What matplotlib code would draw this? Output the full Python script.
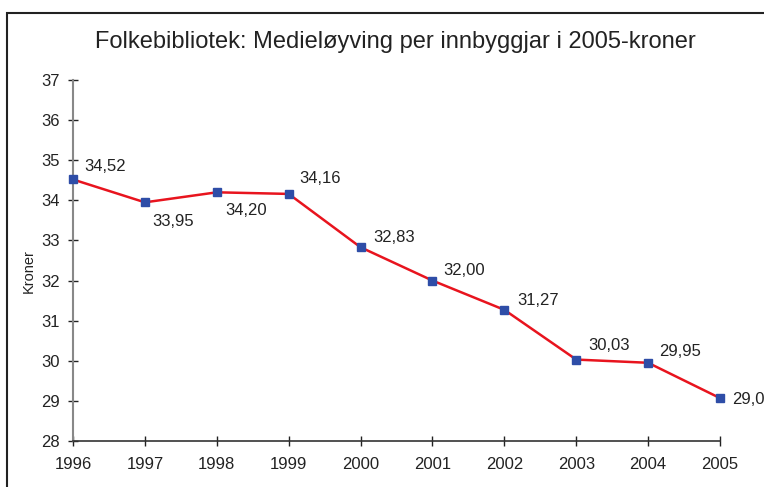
import matplotlib
matplotlib.use('Agg')
import matplotlib.pyplot as plt
from matplotlib.patches import Rectangle

plt.rcParams['font.family'] = ['Liberation Sans', 'DejaVu Sans']

years = [1996, 1997, 1998, 1999, 2000, 2001, 2002, 2003, 2004, 2005]
values = [34.52, 33.95, 34.20, 34.16, 32.83, 32.00, 31.27, 30.03, 29.95, 29.07]
labels = ['34,52', '33,95', '34,20', '34,16', '32,83', '32,00', '31,27', '30,03', '29,95', '29,07']
# label offsets in points (dx, dy)
offsets = [(8, 9), (5, -14), (6, -13), (8, 11), (9, 7), (8, 7), (9, 7), (9, 10), (8, 8), (9, -1)]

fig = plt.figure(figsize=(7.64, 4.87), dpi=100)
fig.patch.set_facecolor('white')

# outer frame (cut off at the right and bottom, as in the source)
fig.patches.append(Rectangle((7 / 764, -0.1), 1.2, 1 - 13 / 487 + 0.1,
                             transform=fig.transFigure, fill=False,
                             edgecolor='#222222', linewidth=1.5, clip_on=False))

ax = fig.add_axes([73 / 764, 1 - 441 / 487, (720 - 73) / 764, (441 - 80) / 487])
ax.plot(years, values, color='#E8141E', linewidth=1.8, marker='s',
        markersize=5.5, markerfacecolor='#2E4DA7', markeredgecolor='#2E4DA7', clip_on=False, zorder=3)

for x, y, lab, (dx, dy) in zip(years, values, labels, offsets):
    ax.annotate(lab, (x, y), xytext=(dx, dy), textcoords='offset points',
                ha='left', va='center', fontsize=12, color='#222222', annotation_clip=False)

ax.set_xlim(1996, 2005)
ax.set_ylim(28, 37)
ax.set_xticks(years)
ax.set_yticks(range(28, 38))
ax.tick_params(direction='inout', length=7, width=1, labelsize=12, colors='#222222')
ax.tick_params(axis='x', pad=8)
ax.tick_params(axis='y', pad=6)
for s in ['top', 'right']:
    ax.spines[s].set_visible(False)
ax.spines['left'].set_color('#888888')
ax.spines['left'].set_linewidth(1.5)
ax.spines['bottom'].set_color('#333333')
ax.spines['bottom'].set_linewidth(1.2)
ax.set_ylabel('Kroner', fontsize=10.5, color='#222222')
ax.yaxis.set_label_coords(-0.058, 0.47)

fig.text(395 / 764, 1 - 42 / 487, 'Folkebibliotek: Medieløyving per innbyggjar i 2005-kroner',
         ha='center', va='center', fontsize=17, color='#222222')

fig.savefig('out.png', dpi=100)
